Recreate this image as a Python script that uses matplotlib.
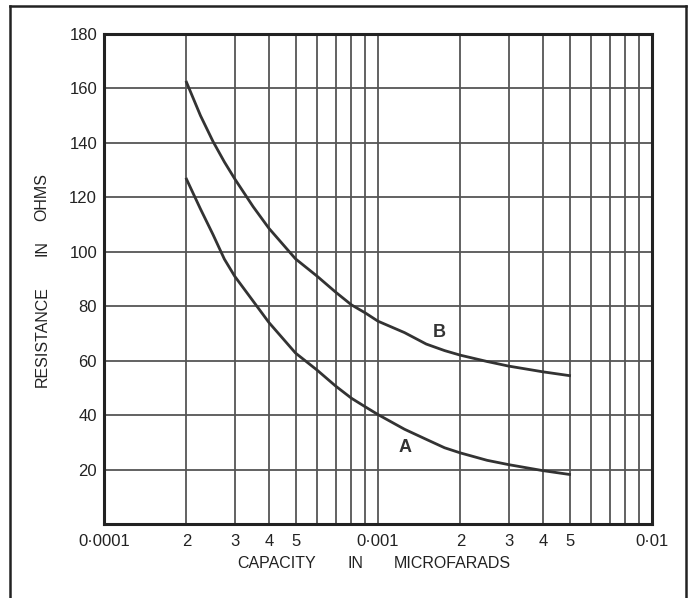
import numpy as np
import matplotlib.pyplot as plt
from matplotlib.lines import Line2D

plt.rcParams['font.family'] = ['Liberation Sans', 'DejaVu Sans']

# Valores
capacidad = [2e-4, 2.25e-4, 2.5e-4, 2.75e-4, 3e-4, 3.5e-4, 4e-4, 5e-4, 6e-4,
             7e-4, 8e-4, 9e-4, 1e-3, 1.25e-3, 1.5e-3, 1.75e-3, 2e-3, 2.5e-3,
             3e-3, 4e-3, 5e-3]
curva_b = [162.3, 150, 140.5, 133, 126.8, 116.6, 108.6, 97.4, 91,
           85.2, 80.5, 77.5, 74.5, 70.3, 66.1, 63.7, 62, 59.7,
           58, 55.9, 54.5]
curva_a = [126.7, 115.7, 106.3, 97.3, 91, 81.9, 74, 62.8, 56.5,
           50.7, 46.2, 43, 40.2, 34.8, 31.1, 28, 26.1, 23.4,
           21.8, 19.6, 18.2]

# Ticks y etiquetas
x_ticks = [1e-4, 2e-4, 3e-4, 4e-4, 5e-4, 6e-4, 7e-4, 8e-4, 9e-4,
           1e-3, 2e-3, 3e-3, 4e-3, 5e-3, 6e-3, 7e-3, 8e-3, 9e-3, 1e-2]
x_labels = ['0·0001', '2', '3', '4', '5', '', '', '', '',
            '0·001', '2', '3', '4', '5', '', '', '', '', '0·01']
y_ticks = [20, 40, 60, 80, 100, 120, 140, 160, 180]
y_labels = ['20', '40', '60', '80', '100', '120', '140', '160', '180']

W, H = 688, 598
fig = plt.figure(figsize=(W / 100, H / 100), dpi=100)
fig.patch.set_facecolor('white')

# marco exterior
for xs, ys in [([10, 10], [0, 592]), ([10, 686], [592, 592]), ([686, 686], [592, 0])]:
    fig.add_artist(Line2D([x / W for x in xs], [y / H for y in ys],
                          color='#222222', lw=1.8, transform=fig.transFigure))

ax = fig.add_axes([104 / W, 1 - 524 / H, 548 / W, 490 / H])
ax.set_xscale('log')
ax.set_xlim(1e-4, 1e-2)
ax.set_ylim(0, 180)

ax.set_xticks(x_ticks)
ax.set_xticklabels(x_labels)
ax.xaxis.set_minor_locator(plt.NullLocator())
ax.set_yticks(y_ticks)
ax.set_yticklabels(y_labels)
ax.tick_params(axis='both', length=0, labelsize=12, colors='#222222')
ax.tick_params(axis='x', pad=7)
ax.tick_params(axis='y', pad=5)

ax.grid(True, color='#555555', lw=1.3)
for s in ax.spines.values():
    s.set_linewidth(2.2)
    s.set_color('#222222')

ax.plot(capacidad, curva_b, color='#333333', lw=2, solid_joinstyle='round')
ax.plot(capacidad, curva_a, color='#333333', lw=2, solid_joinstyle='round')

ax.text(1.68e-3, 70.4, 'B', fontsize=13, fontweight='bold', color='#333333',
        ha='center', va='center')
ax.text(1.25e-3, 28, 'A', fontsize=13, fontweight='bold', color='#333333',
        ha='center', va='center')

# títulos de ejes, palabra por palabra como en el original
for palabra, xc in [('CAPACITY', 277), ('IN', 355), ('MICROFARADS', 452)]:
    fig.text(xc / W, 1 - 563 / H, palabra, fontsize=11.5, color='#222222',
             ha='center', va='center')
for palabra, yc in [('RESISTANCE', 337), ('IN', 248), ('OHMS', 197)]:
    fig.text(42 / W, 1 - yc / H, palabra, fontsize=11.5, color='#222222',
             ha='center', va='center', rotation=90)

fig.savefig('out.png', dpi=100)
